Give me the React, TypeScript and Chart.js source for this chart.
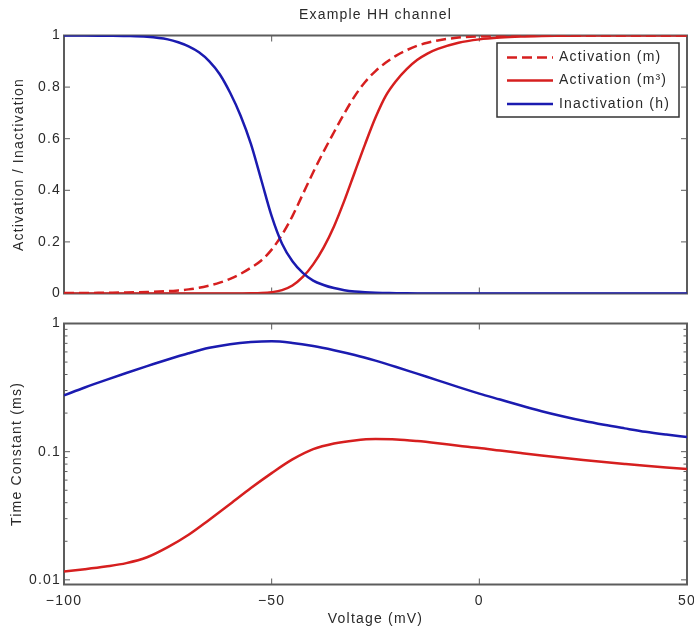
import React, { useEffect, useRef } from 'react';
import { Chart, registerables } from 'chart.js';
Chart.register(...registerables);

// ---------- data ----------
const voltageTop = [-100, -95, -90, -85, -80, -75, -72.5, -70, -67.5, -65, -62.5, -60, -57.5, -55, -52.5, -50, -47.5, -45, -42.5, -40, -37.5, -35, -32.5, -30, -27.5, -25, -22.5, -20, -17.5, -15, -12.5, -10, -5, 0, 5, 10, 15, 20, 25, 30, 35, 40, 45, 50];
const mInf = [0.0015, 0.002, 0.003, 0.004, 0.006, 0.009, 0.012, 0.016, 0.022, 0.031, 0.042, 0.057, 0.076, 0.1, 0.128, 0.17, 0.228, 0.3, 0.385, 0.47, 0.55, 0.625, 0.698, 0.765, 0.82, 0.862, 0.895, 0.922, 0.943, 0.96, 0.972, 0.981, 0.992, 0.997, 0.999, 1, 1, 1, 1, 1, 1, 1, 1, 1];
const m3Inf = [0, 0, 0, 0, 0, 0, 0, 0, 0, 0, 0, 0.0001, 0.0002, 0.0005, 0.0015, 0.005, 0.013, 0.031, 0.064, 0.113, 0.178, 0.26, 0.36, 0.47, 0.579, 0.682, 0.767, 0.825, 0.87, 0.905, 0.93, 0.948, 0.972, 0.985, 0.992, 0.996, 0.998, 0.999, 1, 1, 1, 1, 1, 1];
const hInf = [1, 1, 0.999, 0.998, 0.995, 0.985, 0.974, 0.958, 0.935, 0.9, 0.85, 0.778, 0.69, 0.58, 0.44, 0.3, 0.193, 0.125, 0.08, 0.05, 0.033, 0.021, 0.013, 0.008, 0.005, 0.003, 0.002, 0.001, 0.0005, 0.0002, 0, 0, 0, 0, 0, 0, 0, 0, 0, 0, 0, 0, 0, 0];

const voltageBottom = [-100, -95, -90, -85, -80, -75, -70, -65, -60, -55, -50, -45, -40, -35, -30, -25, -20, -15, -10, -5, 0, 5, 10, 15, 20, 25, 30, 35, 40, 45, 50];
const tauH = [0.275, 0.317, 0.362, 0.411, 0.465, 0.524, 0.586, 0.646, 0.69, 0.716, 0.726, 0.705, 0.667, 0.619, 0.568, 0.513, 0.458, 0.406, 0.36, 0.319, 0.284, 0.255, 0.229, 0.207, 0.189, 0.174, 0.162, 0.152, 0.143, 0.136, 0.13];
const tauM = [0.0116, 0.0121, 0.0127, 0.0135, 0.015, 0.018, 0.0225, 0.0295, 0.039, 0.052, 0.068, 0.087, 0.1047, 0.116, 0.1225, 0.1253, 0.1245, 0.121, 0.1164, 0.1114, 0.107, 0.102, 0.0975, 0.0933, 0.0895, 0.0861, 0.083, 0.0802, 0.0776, 0.0753, 0.0733];

const xTickValues = [-100, -50, 0, 50];
const topYTicks = [0, 0.2, 0.4, 0.6, 0.8, 1];
const logMajorTicks = [0.01, 0.1, 1];
const logMinorTicks = [0.02, 0.03, 0.04, 0.05, 0.06, 0.07, 0.08, 0.09, 0.2, 0.3, 0.4, 0.5, 0.6, 0.7, 0.8, 0.9];

const legendLabels = ['Activation (m)', 'Activation (m\u00B3)', 'Inactivation (h)'];

// ---------- style ----------
const FONT = "'Liberation Sans', Arial, Helvetica, sans-serif";
const TEXT = '#2a2a2a';
const FRAME = '#5c5c5c';
const RED = '#d61f1f';
const BLUE = '#1b1bb0';
const LW = 2.5;

const fmtX = (v: number) => (v < 0 ? '\u2212' + Math.abs(v) : String(v));

function framePlugin(xTicks: number[], yMajor: number[], yMinor: number[]) {
  return {
    id: 'axesFrame',
    beforeDraw(chart: any) {
      chart.ctx.letterSpacing = '1.2px';
    },
    beforeDatasetsDraw(chart: any) {
      const { ctx, chartArea, scales } = chart;
      const { left, right, top, bottom } = chartArea;
      const x = scales.x;
      const y = scales.y;
      ctx.save();
      ctx.strokeStyle = FRAME;
      ctx.lineWidth = 1;
      ctx.beginPath();
      for (const v of xTicks) {
        const px = x.getPixelForValue(v);
        ctx.moveTo(px, bottom); ctx.lineTo(px, bottom - 6);
        ctx.moveTo(px, top); ctx.lineTo(px, top + 6);
      }
      for (const v of yMajor) {
        const py = y.getPixelForValue(v);
        ctx.moveTo(left, py); ctx.lineTo(left + 6, py);
        ctx.moveTo(right, py); ctx.lineTo(right - 6, py);
      }
      for (const v of yMinor) {
        const py = y.getPixelForValue(v);
        ctx.moveTo(left, py); ctx.lineTo(left + 3.5, py);
        ctx.moveTo(right, py); ctx.lineTo(right - 3.5, py);
      }
      ctx.stroke();
      ctx.lineWidth = 2;
      ctx.strokeRect(left, top, right - left, bottom - top);
      ctx.restore();
    },
  };
}

const legendPlugin = {
  id: 'boxLegend',
  afterDatasetsDraw(chart: any) {
    const { ctx, chartArea } = chart;
    const bw = 182, bh = 74;
    const bx = chartArea.right - 8 - bw;
    const by = chartArea.top + 7.5;
    ctx.save();
    ctx.fillStyle = '#fff';
    ctx.fillRect(bx, by, bw, bh);
    ctx.strokeStyle = '#333';
    ctx.lineWidth = 1.5;
    ctx.strokeRect(bx, by, bw, bh);
    const rows = [14.5, 37.5, 61];
    chart.data.datasets.forEach((ds: any, i: number) => {
      const ry = by + rows[i];
      ctx.beginPath();
      ctx.strokeStyle = ds.borderColor;
      ctx.lineWidth = LW;
      ctx.setLineDash(ds.borderDash || []);
      ctx.moveTo(bx + 10, ry);
      ctx.lineTo(bx + 56, ry);
      ctx.stroke();
      ctx.setLineDash([]);
      ctx.fillStyle = TEXT;
      ctx.font = `14px ${FONT}`;
      ctx.textBaseline = 'middle';
      ctx.textAlign = 'left';
      ctx.fillText(legendLabels[i], bx + 62, ry);
    });
    ctx.restore();
  },
};

const tickFont = { family: FONT, size: 14, weight: 'normal' as const };

export default function App() {
  const topRef = useRef<HTMLCanvasElement>(null);
  const botRef = useRef<HTMLCanvasElement>(null);

  useEffect(() => {
    const top = new Chart(topRef.current!, {
      type: 'line',
      data: {
        datasets: [
          { label: legendLabels[0], data: voltageTop.map((v, i) => ({ x: v, y: mInf[i] })), borderColor: RED, borderDash: [10, 5], borderWidth: LW, pointRadius: 0, cubicInterpolationMode: 'monotone', fill: false, order: 2 },
          { label: legendLabels[1], data: voltageTop.map((v, i) => ({ x: v, y: m3Inf[i] })), borderColor: RED, borderWidth: LW, pointRadius: 0, cubicInterpolationMode: 'monotone', fill: false, order: 1 },
          { label: legendLabels[2], data: voltageTop.map((v, i) => ({ x: v, y: hInf[i] })), borderColor: BLUE, borderWidth: LW, pointRadius: 0, cubicInterpolationMode: 'monotone', fill: false, order: 0 },
        ] as any,
      },
      options: {
        responsive: false,
        animation: false,
        devicePixelRatio: 1,
        events: [],
        layout: { autoPadding: false, padding: { left: 0, right: 7, top: 0, bottom: 16.5 } },
        plugins: {
          legend: { display: false },
          tooltip: { enabled: false },
          title: { display: true, fullSize: false, text: 'Example HH channel', color: TEXT, font: tickFont, padding: { top: 6.6, bottom: 12.1 } },
        },
        scales: {
          x: { type: 'linear', min: -100, max: 50, display: false },
          y: {
            type: 'linear', min: 0, max: 1,
            grid: { display: false, drawTicks: false }, border: { display: false },
            ticks: { stepSize: 0.2, padding: 3, color: TEXT, font: tickFont, callback: (v: any) => String(Number(Number(v).toFixed(1))) },
            title: { display: true, text: 'Activation / Inactivation', color: TEXT, font: tickFont, padding: { top: 10.6, bottom: 0 } },
            afterFit: (s: any) => { s.width = 64; s.paddingTop = 0; s.paddingBottom = 0; },
          },
        },
      } as any,
      plugins: [framePlugin(xTickValues, topYTicks, []), legendPlugin],
    });

    const bot = new Chart(botRef.current!, {
      type: 'line',
      data: {
        datasets: [
          { label: 'tau m', data: voltageBottom.map((v, i) => ({ x: v, y: tauM[i] })), borderColor: RED, borderWidth: LW, pointRadius: 0, cubicInterpolationMode: 'monotone', fill: false },
          { label: 'tau h', data: voltageBottom.map((v, i) => ({ x: v, y: tauH[i] })), borderColor: BLUE, borderWidth: LW, pointRadius: 0, cubicInterpolationMode: 'monotone', fill: false },
        ] as any,
      },
      options: {
        responsive: false,
        animation: false,
        devicePixelRatio: 1,
        events: [],
        layout: { autoPadding: false, padding: { left: 0, right: 7, top: 13.5, bottom: 0 } },
        plugins: { legend: { display: false }, tooltip: { enabled: false } },
        scales: {
          x: {
            type: 'linear', min: -100, max: 50,
            grid: { display: false, drawTicks: false }, border: { display: false },
            ticks: { stepSize: 50, padding: 8, color: TEXT, font: tickFont, maxRotation: 0, callback: (v: any) => fmtX(Number(v)) },
            afterBuildTicks: (s: any) => { s.ticks = xTickValues.map((v) => ({ value: v })); },
            title: { display: true, text: 'Voltage (mV)', color: TEXT, font: tickFont, padding: { top: 0, bottom: 2.6 } },
            afterFit: (s: any) => { s.height = 45.5; s.paddingLeft = 0; s.paddingRight = 0; },
          },
          y: {
            type: 'logarithmic', min: 0.0092, max: 1,
            grid: { display: false, drawTicks: false }, border: { display: false },
            ticks: { padding: 3, color: TEXT, font: tickFont, callback: (v: any) => String(v) },
            afterBuildTicks: (s: any) => { s.ticks = logMajorTicks.map((v) => ({ value: v })); },
            title: { display: true, text: 'Time Constant (ms)', color: TEXT, font: tickFont, padding: { top: 8.6, bottom: 0 } },
            afterFit: (s: any) => { s.width = 64; s.paddingTop = 0; s.paddingBottom = 0; },
          },
        },
      } as any,
      plugins: [framePlugin(xTickValues, logMajorTicks, logMinorTicks)],
    });

    return () => { top.destroy(); bot.destroy(); };
  }, []);

  return (
    <div style={{ position: 'absolute', left: 0, top: 0, width: 694, height: 630, background: '#fff', overflow: 'hidden' }}>
      <canvas ref={topRef} width={694} height={310} style={{ position: 'absolute', left: 0, top: 0, width: 694, height: 310 }} />
      <canvas ref={botRef} width={694} height={320} style={{ position: 'absolute', left: 0, top: 310, width: 694, height: 320 }} />
    </div>
  );
}
